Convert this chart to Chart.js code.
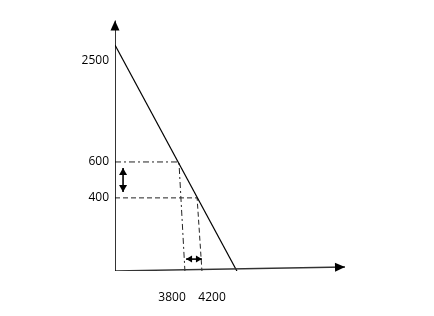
<!DOCTYPE html>
<html>
<head>
<meta charset="utf-8">
<script src="https://cdn.jsdelivr.net/npm/chart.js@4/dist/chart.umd.min.js"></script>
<style>
  body { margin: 0; background: #fff; }
  #wrap { width: 434px; height: 316px; }
</style>
</head>
<body>
<div id="wrap"><canvas id="demandChart" width="434" height="316"></canvas></div>
<script>
// diagram units: both axes run 0..100 (schematic, not to scale)
const priceLabels = ['2500', '600', '400'];
const priceLevels = [83, 43.1, 28.9];

const qtyLabels = ['3800', '4200'];
const qtyLabelPos = [24.8, 42.2];

// demand curve: intercept on the price axis and on the quantity axis
const demandX = [0, 53];
const demandY = [89.3, 0];

// where the demand curve is read at 600 and 400, and where the guides meet the x axis
const pointHighX = 27.8;
const pointLowX = 35.7;
const footHighX = 30.4;
const footLowX = 37.8;

// the little double arrows
const priceArrowX = 3.5;
const priceArrowY = [40.7, 31.2];
const qtyArrowY = 4.7;
const qtyArrowX = [30.9, 37.8];

const xAxisEnd = [100, 1.6];
const yAxisTop = 99;

function pts(xs, ys) {
    return xs.map((x, i) => ({ x: x, y: ys[i] }));
}

// dessine les pointes de flèche aux extrémités des lignes
const arrowPlugin = {
    id: 'arrowHeads',
    afterDatasetsDraw(chart) {
        const c = chart.ctx;
        chart.data.datasets.forEach((ds, i) => {
            if (!ds.arrows) return;
            const p = chart.getDatasetMeta(i).data;
            const head = (tip, from, len, w) => {
                const dx = tip.x - from.x, dy = tip.y - from.y;
                const d = Math.hypot(dx, dy) || 1;
                const ux = dx / d, uy = dy / d;
                const bx = tip.x - ux * len, by = tip.y - uy * len;
                c.beginPath();
                c.moveTo(tip.x, tip.y);
                c.lineTo(bx - uy * w, by + ux * w);
                c.lineTo(bx + uy * w, by - ux * w);
                c.closePath();
                c.fill();
            };
            c.save();
            c.fillStyle = '#000';
            const len = ds.arrowLen || 10, w = ds.arrowW || 4;
            if (ds.arrows.includes('end')) head(p[p.length - 1], p[p.length - 2], len, w);
            if (ds.arrows.includes('start')) head(p[0], p[1], len, w);
            c.restore();
        });
    }
};

const ctx = document.getElementById('demandChart');

new Chart(ctx, {
    type: 'scatter',
    data: {
        datasets: [
            { // eixo y
                data: pts([0, 0], [0, yAxisTop]),
                showLine: true, borderColor: '#000', borderWidth: 1.6,
                arrows: ['end'], arrowLen: 10, arrowW: 4.5
            },
            { // eixo x
                data: pts([0, xAxisEnd[0]], [0, xAxisEnd[1]]),
                showLine: true, borderColor: '#333', borderWidth: 1.4,
                arrows: ['end'], arrowLen: 10, arrowW: 4.5
            },
            { // demand
                data: pts(demandX, demandY),
                showLine: true, borderColor: '#000', borderWidth: 1.2
            },
            { // guide at 600
                data: pts([0, pointHighX, footHighX], [priceLevels[1], priceLevels[1], 0]),
                showLine: true, borderColor: '#222', borderWidth: 1,
                borderDash: [6, 3, 2, 3]
            },
            { // guide at 400
                data: pts([0, pointLowX, footLowX], [priceLevels[2], priceLevels[2], 0]),
                showLine: true, borderColor: '#222', borderWidth: 1,
                borderDash: [5, 3]
            },
            { // price change arrow
                data: pts([priceArrowX, priceArrowX], priceArrowY),
                showLine: true, borderColor: '#000', borderWidth: 1.6,
                arrows: ['start', 'end'], arrowLen: 7, arrowW: 4
            },
            { // quantity change arrow
                data: pts(qtyArrowX, [qtyArrowY, qtyArrowY]),
                showLine: true, borderColor: '#000', borderWidth: 1.6,
                arrows: ['start', 'end'], arrowLen: 6, arrowW: 3.5
            }
        ]
    },
    options: {
        responsive: false,
        animation: false,
        layout: { padding: { top: 18, right: 89, left: 0, bottom: 0 } },
        elements: { point: { radius: 0, hoverRadius: 0 } },
        plugins: {
            legend: { display: false },
            tooltip: { enabled: false }
        },
        scales: {
            x: {
                type: 'linear', min: 0, max: 100,
                grid: { display: false, drawTicks: false }, border: { display: false },
                afterFit: (scale) => { scale.height = 45; },
                afterBuildTicks: (scale) => { scale.ticks = qtyLabelPos.map(v => ({ value: v })); },
                ticks: {
                    autoSkip: false, maxRotation: 0, padding: 19,
                    color: '#000',
                    font: { family: 'Open Sans', size: 12 },
                    callback: (v) => qtyLabels[qtyLabelPos.indexOf(v)]
                }
            },
            y: {
                type: 'linear', min: 0, max: 100,
                grid: { display: false, drawTicks: false }, border: { display: false },
                afterFit: (scale) => { scale.width = 115; },
                afterBuildTicks: (scale) => { scale.ticks = priceLevels.map(v => ({ value: v })); },
                ticks: {
                    autoSkip: false, padding: 6,
                    color: '#000',
                    font: { family: 'Open Sans', size: 12 },
                    callback: (v) => priceLabels[priceLevels.indexOf(v)]
                }
            }
        }
    },
    plugins: [arrowPlugin]
});
</script>
</body>
</html>
